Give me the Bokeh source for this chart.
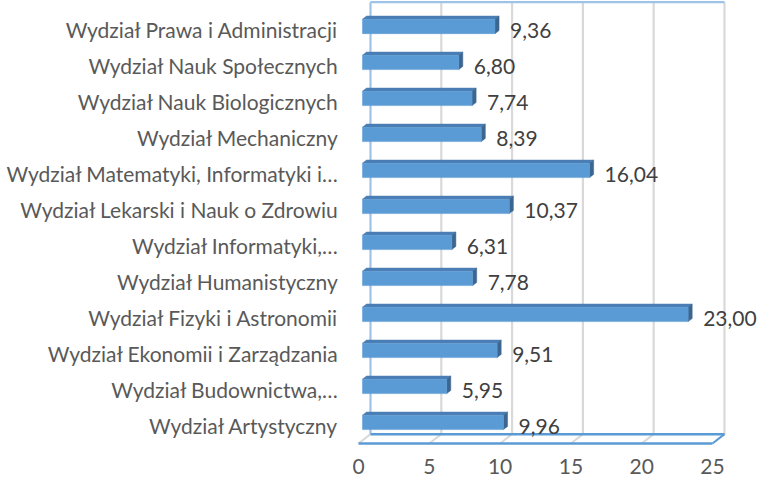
from bokeh.plotting import figure
from bokeh.models import Range1d, FixedTicker, ColumnDataSource
from bokeh.core.properties import value
from bokeh.embed import file_html
from bokeh.resources import INLINE

# ---- data (top to bottom as shown) ----
categories = [
    "Wydział Prawa i Administracji",
    "Wydział Nauk Społecznych",
    "Wydział Nauk Biologicznych",
    "Wydział Mechaniczny",
    "Wydział Matematyki, Informatyki i…",
    "Wydział Lekarski i Nauk o Zdrowiu",
    "Wydział Informatyki,…",
    "Wydział Humanistyczny",
    "Wydział Fizyki i Astronomii",
    "Wydział Ekonomii i Zarządzania",
    "Wydział Budownictwa,…",
    "Wydział Artystyczny",
]
values = [9.36, 6.80, 7.74, 8.39, 16.04, 10.37, 6.31, 7.78, 23.00, 9.51, 5.95, 9.96]
x_ticks = [0, 5, 10, 15, 20, 25]

FONT = "Lato"
FS = "21px"
n = len(categories)
ypos = [n - 1 - i for i in range(n)]
xmax = x_ticks[-1]

# ---- 3D projection parameters (depth offsets in data units) ----
DX = 0.847   # x shift at full depth
DY = 0.26    # y shift at full depth
FLOOR = -0.5
TOP = n - 0.5
Z0, Z1 = 0.33, 0.67   # bar depth span
HALF = 0.2            # bar half height


def proj(x, y, z):
    return x + z * DX, y + z * DY


W, H = 757, 480
p = figure(width=W, height=H, output_backend="svg", toolbar_location=None,
           x_range=Range1d(-0.424, 28.18), y_range=Range1d(-1.528, 11.806),
           min_border_left=352, min_border_right=0, min_border_top=0,
           min_border_bottom=0)
p.outline_line_color = None
p.xgrid.grid_line_color = None
p.ygrid.grid_line_color = None
p.background_fill_color = "white"
p.border_fill_color = "white"

# ---- back wall gridlines ----
for t in x_ticks:
    xa, ya = proj(t, FLOOR, 1)
    xb, yb = proj(t, TOP, 1)
    col = "#9DC3E6" if t == 0 else "#D9D9D9"
    p.line([xa, xb], [ya, yb], line_color=col, line_width=2.2)
xa, ya = proj(0, TOP, 1)
xb, yb = proj(xmax, TOP, 1)
p.line([xa, xb], [ya, yb], line_color="#9DC3E6", line_width=2.2)

# ---- floor ----
for t in x_ticks:
    xa, ya = proj(t, FLOOR, 0)
    xb, yb = proj(t, FLOOR, 1)
    col = "#5B9BD5" if t == xmax else "#D9D9D9"
    p.line([xa, xb], [ya, yb], line_color=col, line_width=2)
for z in (0, 1):
    xa, ya = proj(0, FLOOR, z)
    xb, yb = proj(xmax, FLOOR, z)
    p.line([xa, xb], [ya, yb], line_color="#5B9BD5", line_width=2.5)

# ---- 3D bars ----
front_xs, front_ys, top_xs, top_ys, side_xs, side_ys = [], [], [], [], [], []
for v, y in zip(values, ypos):
    pts = [proj(0, y - HALF, Z0), proj(v, y - HALF, Z0), proj(v, y + HALF, Z0), proj(0, y + HALF, Z0)]
    front_xs.append([a for a, b in pts]); front_ys.append([b for a, b in pts])
    pts = [proj(0, y + HALF, Z0), proj(v, y + HALF, Z0), proj(v, y + HALF, Z1), proj(0, y + HALF, Z1)]
    top_xs.append([a for a, b in pts]); top_ys.append([b for a, b in pts])
    pts = [proj(v, y - HALF, Z0), proj(v, y + HALF, Z0), proj(v, y + HALF, Z1), proj(v, y - HALF, Z1)]
    side_xs.append([a for a, b in pts]); side_ys.append([b for a, b in pts])

p.patches(top_xs, top_ys, fill_color="#4A7DB3", line_color="#4A7DB3", line_width=0.5)
p.patches(side_xs, side_ys, fill_color="#3C6690", line_color="#3C6690", line_width=0.5)
p.patches(front_xs, front_ys, fill_color="#5B9BD5", line_color="#5B9BD5", line_width=0.5)

# ---- value labels ----
lab_src = ColumnDataSource(dict(x=values, y=ypos,
                                t=[f"{v:.2f}".replace(".", ",") for v in values]))
p.text(x="x", y="y", text="t", source=lab_src, x_offset=19, y_offset=1,
       text_font=value(FONT), text_font_size=FS, text_color="#404040",
       text_align="left", text_baseline="middle")

# ---- x tick labels along the front edge of the floor ----
tick_src = ColumnDataSource(dict(x=x_ticks, y=[FLOOR] * len(x_ticks),
                                 t=[str(t) for t in x_ticks]))
p.text(x="x", y="y", text="t", source=tick_src, x_offset=0, y_offset=23,
       text_font=value(FONT), text_font_size=FS, text_color="#595959",
       text_align="center", text_baseline="middle")

# ---- axes ----
p.xaxis.visible = False
p.yaxis.ticker = FixedTicker(ticks=ypos)
p.yaxis.major_label_overrides = {y: c for y, c in zip(ypos, categories)}
ax = p.yaxis
ax.axis_line_color = None
ax.major_tick_line_color = None
ax.minor_tick_line_color = None
ax.major_tick_out = 0
ax.major_tick_in = 0
ax.major_label_text_font = FONT
ax.major_label_text_font_size = FS
ax.major_label_text_color = "#595959"
ax.major_label_standoff = 14

open("out.html", "w").write(file_html(p, INLINE))
